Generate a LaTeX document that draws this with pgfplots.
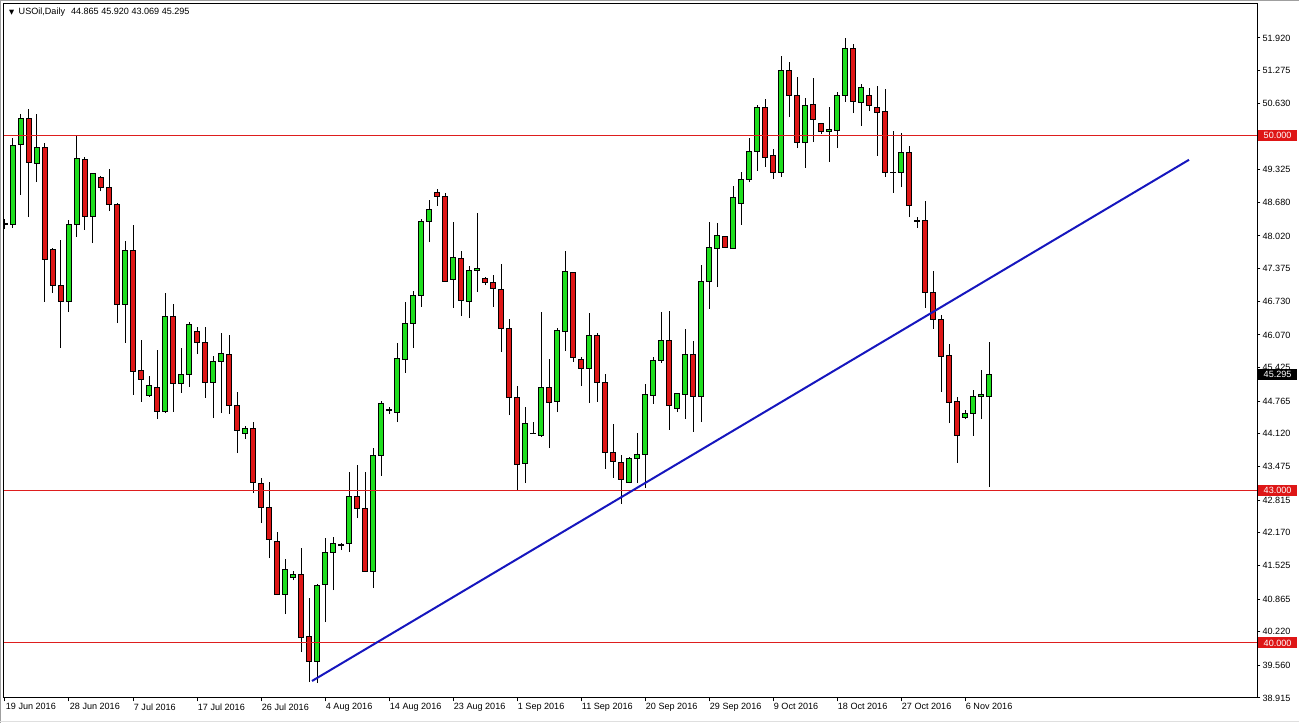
\documentclass[border=0pt]{standalone}
\usepackage{fontspec}
\setmainfont{Liberation Sans}
\newfontfamily\dejavu{DejaVu Sans}
\usepackage{pgfplots}
\usepackage{pgfplotstable}
\pgfplotsset{compat=1.18}
\definecolor{mtgreen}{RGB}{30,222,30}
\definecolor{mtred}{RGB}{222,22,22}
\definecolor{mtline}{RGB}{222,30,30}
\definecolor{mtblue}{RGB}{22,22,190}

\pgfplotstableread{
i O H L C
0 48.26 48.35 48.15 48.25
1 48.25 49.95 48.18 49.81
2 49.83 50.42 48.83 50.34
3 50.34 50.52 48.39 49.46
4 49.44 50.42 49.08 49.77
5 49.77 49.85 46.72 47.56
6 47.76 47.78 46.90 47.05
7 47.05 47.94 45.81 46.72
8 46.72 48.33 46.52 48.25
9 48.25 49.99 48.00 49.54
10 49.52 49.58 48.14 48.41
11 48.41 49.26 47.88 49.24
12 49.18 49.20 48.90 48.98
13 48.98 49.34 48.51 48.63
14 48.63 48.67 46.30 46.66
15 46.66 47.92 45.91 47.74
16 47.74 48.24 44.89 45.34
17 45.36 45.97 44.75 45.20
18 44.87 45.26 44.85 45.08
19 45.04 45.77 44.41 44.57
20 44.57 46.90 44.53 46.44
21 46.44 46.68 44.55 45.12
22 45.12 45.81 44.93 45.28
23 45.28 46.32 45.04 46.28
24 46.13 46.22 45.69 45.91
25 45.91 46.23 44.83 45.14
26 45.14 45.65 44.43 45.54
27 45.54 46.11 44.53 45.71
28 45.69 46.07 44.51 44.67
29 44.67 44.94 43.74 44.18
30 44.12 44.27 44.02 44.22
31 44.22 44.35 42.95 43.17
32 43.15 43.25 42.36 42.66
33 42.66 43.17 41.67 42.03
34 41.99 42.19 40.94 40.96
35 40.96 41.65 40.57 41.44
36 41.28 41.42 41.24 41.34
37 41.34 41.87 39.82 40.10
38 40.12 40.89 39.23 39.64
39 39.64 41.16 39.21 41.14
40 41.16 42.07 40.41 41.79
41 41.79 42.09 41.04 41.95
42 41.93 41.97 41.83 41.92
43 41.95 43.37 41.79 42.88
44 42.88 43.51 42.46 42.64
45 42.64 43.37 41.40 41.40
46 41.40 43.84 41.08 43.70
47 43.70 44.77 43.29 44.71
48 44.58 44.65 44.51 44.60
49 44.55 45.91 44.35 45.61
50 45.59 46.72 45.32 46.30
51 46.30 46.93 45.81 46.84
52 46.84 48.35 46.62 48.31
53 48.31 48.73 47.90 48.55
54 48.87 48.95 48.61 48.79
55 48.79 48.87 47.13 47.13
56 47.17 48.29 46.60 47.60
57 47.58 47.72 46.44 46.74
58 46.72 47.43 46.40 47.33
59 47.33 48.47 46.92 47.37
60 47.19 47.21 47.05 47.11
61 47.11 47.25 46.62 46.99
62 46.97 47.47 45.73 46.19
63 46.19 46.38 44.49 44.83
64 44.83 45.06 43.01 43.51
65 43.53 44.65 43.15 44.33
66 44.12 44.35 44.12 44.13
67 44.08 46.52 44.06 45.04
68 45.04 45.59 43.84 44.73
69 44.75 46.21 44.55 46.15
70 46.13 47.72 45.75 47.31
71 47.29 47.31 45.54 45.63
72 45.59 45.63 45.06 45.40
73 45.40 46.50 44.73 46.05
74 46.05 46.11 44.75 45.14
75 45.14 45.30 43.43 43.76
76 43.76 44.31 43.25 43.57
77 43.55 43.70 42.74 43.23
78 43.17 43.66 43.15 43.64
79 43.64 44.14 43.15 43.72
80 43.72 45.10 43.05 44.89
81 44.87 45.63 44.71 45.56
82 45.56 46.52 45.52 45.95
83 45.95 46.54 44.20 44.67
84 44.61 44.93 44.55 44.91
85 44.89 46.19 44.41 45.69
86 45.69 45.95 44.16 44.85
87 44.85 47.45 44.35 47.13
88 47.13 48.29 46.58 47.80
89 47.78 48.27 47.01 48.02
90 48.00 48.02 47.78 47.80
91 47.78 49.00 47.78 48.77
92 48.65 49.28 48.24 49.14
93 49.14 49.95 49.08 49.69
94 49.69 50.60 49.30 50.56
95 50.56 50.72 49.38 49.56
96 49.60 49.73 49.14 49.26
97 49.26 51.57 49.18 51.27
98 51.27 51.45 50.36 50.78
99 50.78 51.15 49.75 49.87
100 49.87 50.74 49.36 50.58
101 50.60 51.13 49.87 50.32
102 50.23 50.25 50.03 50.07
103 50.07 50.56 49.48 50.11
104 50.09 50.86 49.75 50.78
105 50.78 51.92 50.66 51.72
106 51.72 51.80 50.44 50.66
107 50.64 51.01 50.19 50.95
108 50.78 50.93 50.48 50.58
109 50.56 50.97 49.60 50.46
110 50.48 50.91 49.18 49.26
111 49.27 50.09 48.87 49.26
112 49.26 50.05 48.98 49.67
113 49.67 49.79 48.39 48.61
114 48.33 48.39 48.18 48.31
115 48.33 48.71 46.60 46.90
116 46.90 47.33 46.19 46.38
117 46.38 46.46 44.94 45.65
118 45.67 45.89 44.33 44.73
119 44.75 44.85 43.55 44.08
120 44.45 44.59 44.41 44.53
121 44.53 44.98 44.08 44.85
122 44.85 45.38 44.41 44.89
123 44.865 45.920 43.069 45.295
}\candles

\pgfplotsset{mt/.style={at={(0,0)}, anchor=south west, scale only axis,
  width=939.75pt, height=520.5pt,
  xmin=-0.125, xmax=156.5, ymin=38.915, ymax=52.59}}
\tikzset{pbox/.style={anchor=west, xshift=0.6pt, inner xsep=0pt, inner ysep=0pt,
  minimum width=29.25pt, minimum height=8.25pt, text=white, align=center,
  font=\fontsize{6.8pt}{8pt}\selectfont}}

\begin{document}
\begin{tikzpicture}[font=\fontsize{6.8pt}{8pt}\selectfont]
\begin{axis}[mt,
  axis line style={line width=0.75pt},
  tick style={black, line width=0.75pt},
  tick align=outside, major tick length=2.5pt,
  tick label style={font=\fontsize{6.8pt}{8pt}\selectfont},
  xtick={0,8,...,120},
  xticklabels={19 Jun 2016, 28 Jun 2016, 7 Jul 2016, 17 Jul 2016, 26 Jul 2016, 4 Aug 2016, 14 Aug 2016, 23 Aug 2016, 1 Sep 2016, 11 Sep 2016, 20 Sep 2016, 29 Sep 2016, 9 Oct 2016, 18 Oct 2016, 27 Oct 2016, 6 Nov 2016},
  xtick pos=bottom,
  xticklabel style={anchor=north west, inner sep=0pt, xshift=0.5pt, yshift=-1.5pt},
  ytick pos=right, yticklabel pos=right,
  ytick={51.92,51.275,50.63,49.97,49.325,48.68,48.02,47.375,46.73,46.07,45.425,44.765,44.12,43.475,42.815,42.17,41.525,40.865,40.22,39.56,38.915},
  yticklabels={51.920,51.275,50.630,49.970,49.325,48.680,48.020,47.375,46.730,46.070,45.425,44.765,44.120,43.475,42.815,42.170,41.525,40.865,40.220,39.560,38.915},
  yticklabel style={anchor=west, inner sep=0pt, xshift=1.5pt},
]
\addplot[draw=none, mark=none,
  error bars/.cd, y dir=plus, y explicit, error mark=none,
  error bar style={draw=black, solid, line width=0.75pt}]
  table[x=i, y=L, y error expr=\thisrow{H}-\thisrow{L}] {\candles};
\end{axis}

\begin{axis}[mt, hide axis, ybar stacked, bar width=3.2pt]
\addplot[draw=none, fill=none] table[x=i, y expr={min(\thisrow{O},\thisrow{C})}] {\candles};
\addplot[draw=black, fill=mtgreen, line width=0.75pt] table[x=i, y expr={max(\thisrow{C}-\thisrow{O},0)}] {\candles};
\addplot[draw=black, fill=mtred, line width=0.75pt] table[x=i, y expr={max(\thisrow{O}-\thisrow{C},0)}] {\candles};
\end{axis}

\begin{axis}[mt, hide axis, clip=false]
\addplot[mtline, line width=0.75pt] coordinates {(-0.125,50) (156.5,50)};
\addplot[mtline, line width=0.75pt] coordinates {(-0.125,43) (156.5,43)};
\addplot[mtline, line width=0.75pt] coordinates {(-0.125,40) (156.5,40)};
\addplot[mtblue, line width=1.5pt] coordinates {(38.375,39.25) (148,49.52)};
\node[pbox, fill=mtred] at (axis cs:156.5,50) {50.000};
\node[pbox, fill=mtred] at (axis cs:156.5,43) {43.000};
\node[pbox, fill=mtred] at (axis cs:156.5,40) {40.000};
\node[pbox, fill=black] at (axis cs:156.5,45.295) {45.295};
\node[anchor=west, inner sep=0pt, xshift=3.6pt, yshift=-6.4pt] at (rel axis cs:0,1)
  {{\dejavu\fontsize{5pt}{6pt}\selectfont ▼}\hspace{3.4pt}USOil,Daily\hspace{4.5pt}44.865 45.920 43.069 45.295};
\end{axis}

\draw[gray!75, line width=1pt] (-2.4pt,-18.75pt) -- (-2.4pt,522.9pt) -- (971.25pt,522.9pt);
\draw[gray!25, line width=0.75pt] (-3pt,-17.4pt) -- (971.25pt,-17.4pt);
\pgfresetboundingbox
\path[use as bounding box] (-3pt,-18.75pt) rectangle (971.25pt,523.5pt);
\end{tikzpicture}
\end{document}
